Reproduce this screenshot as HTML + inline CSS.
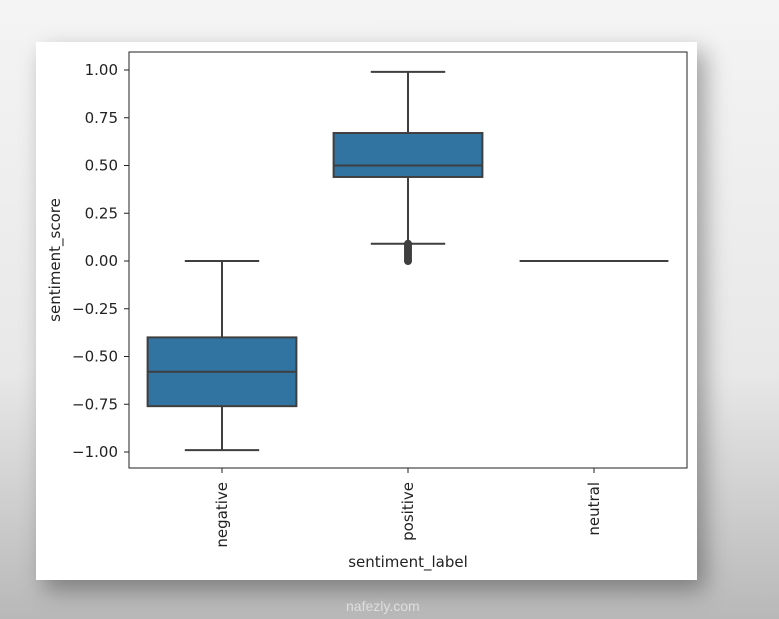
<!DOCTYPE html>
<html><head><meta charset="utf-8"><style>
html,body{margin:0;padding:0;}
body{width:779px;height:619px;overflow:hidden;background:linear-gradient(#f4f4f4,#e8e8e8 60%,#b8b8b8);position:relative;font-family:"Liberation Sans","DejaVu Sans",sans-serif;}
#card{position:absolute;left:36px;top:42px;width:661px;height:538px;background:#fff;box-shadow:8px 10px 22px rgba(0,0,0,0.35);}
svg{position:absolute;left:0;top:0;}
text{font-family:"DejaVu Sans","Liberation Sans",sans-serif;font-size:15px;fill:#222;}
</style></head><body>
<div id="card"></div>
<svg id="chart" width="779" height="619"></svg>
<div style="position:absolute;left:346px;top:598px;font-size:14px;color:rgba(255,255,255,0.55);">nafezly.com</div>
<script>
const categories=["negative","positive","neutral"];
const whiskLow=[-0.99,0.09,0];
const q1=[-0.76,0.44,0];
const medians=[-0.58,0.50,0];
const q3=[-0.40,0.67,0];
const whiskHigh=[0,0.99,0];
const outliers=[[],[0.09,0.08,0.07,0.06,0.05,0.04,0.03,0.02,0.01,0.0],[]];
const yTicks=[1,0.75,0.5,0.25,0,-0.25,-0.5,-0.75,-1];
const yLabels=["1.00","0.75","0.50","0.25","0.00","\u22120.25","\u22120.50","\u22120.75","\u22121.00"];
const NS="http://www.w3.org/2000/svg";
const svg=document.getElementById('chart');
const L=129,R=687,T=52,B=468;
const y=v=>261-v*191;
const bw=(R-L)/categories.length;
const x=i=>L+bw*(i+0.5);
function mk(t,a,p){const e=document.createElementNS(NS,t);for(const k in a)e.setAttribute(k,a[k]);(p||svg).appendChild(e);return e;}
const frame=mk('rect',{x:L,y:T,width:R-L,height:B-T,fill:'none',stroke:'#222','stroke-width':1});


yTicks.forEach((v,i)=>{
  const t=mk('line',{x1:L-5,x2:L,y1:y(v),y2:y(v),stroke:'#222'});
  
  
  const tx=mk('text',{x:L-11,y:y(v)+5,'text-anchor':'end'});tx.textContent=yLabels[i];
  
  
});
const lc='#3f3f3f';
categories.forEach((c,i)=>{
  const cx=x(i),hw=bw*0.4,cap=hw/2;
  const g=mk('g',{});
  
  
  mk('line',{x1:cx,x2:cx,y1:y(whiskHigh[i]),y2:y(q3[i]),stroke:lc,'stroke-width':2},g);
  mk('line',{x1:cx,x2:cx,y1:y(q1[i]),y2:y(whiskLow[i]),stroke:lc,'stroke-width':2},g);
  mk('line',{x1:cx-cap,x2:cx+cap,y1:y(whiskHigh[i]),y2:y(whiskHigh[i]),stroke:lc,'stroke-width':2},g);
  mk('line',{x1:cx-cap,x2:cx+cap,y1:y(whiskLow[i]),y2:y(whiskLow[i]),stroke:lc,'stroke-width':2},g);
  mk('rect',{x:cx-hw,y:y(q3[i]),width:2*hw,height:Math.max(0,y(q1[i])-y(q3[i])),fill:'#3274a1',stroke:lc,'stroke-width':2},g);
  mk('line',{x1:cx-hw,x2:cx+hw,y1:y(medians[i]),y2:y(medians[i]),stroke:lc,'stroke-width':2},g);
  outliers[i].forEach(v=>{
    const o=mk('ellipse',{cx:cx,cy:y(v),rx:4,ry:4,fill:lc},g);
    
    
  });
  const t=mk('line',{x1:cx,x2:cx,y1:B,y2:B+5,stroke:'#222'});
  
  
  const tx=mk('text',{x:0,y:0,'text-anchor':'end',transform:`translate(${cx+5},${B+14}) rotate(-90)`});tx.textContent=c;
  
  
});
const xt=mk('text',{x:(L+R)/2,y:567,'text-anchor':'middle'});xt.textContent='sentiment_label';


const yt=mk('text',{x:0,y:0,'text-anchor':'middle',transform:`translate(60,${(T+B)/2}) rotate(-90)`});yt.textContent='sentiment_score';


</script>
</body></html>
